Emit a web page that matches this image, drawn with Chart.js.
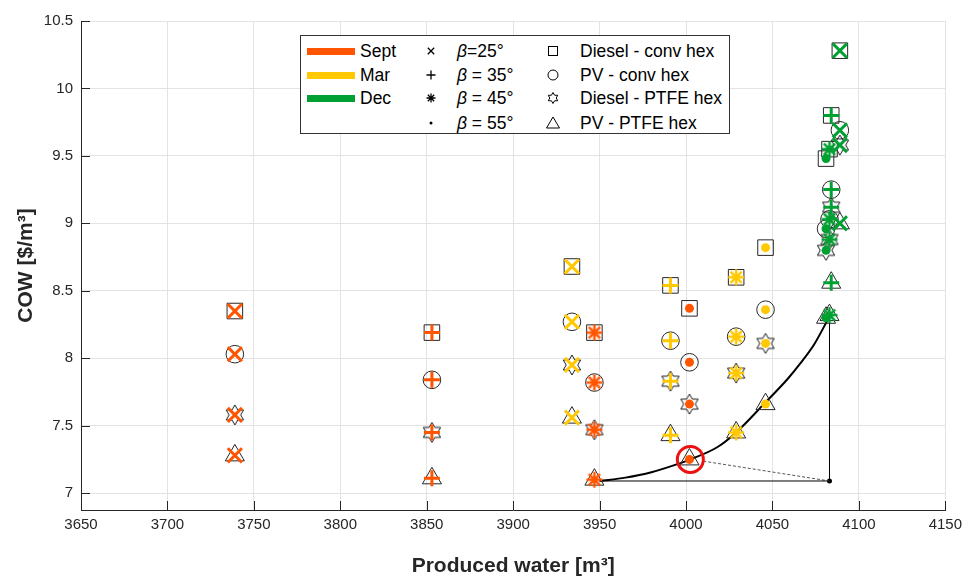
<!DOCTYPE html>
<html>
<head>
<meta charset="utf-8">
<title>COW vs produced water</title>
<script src="https://cdn.jsdelivr.net/npm/chart.js@4.4.0/dist/chart.umd.min.js"></script>
<style>
  body { margin: 0; background: #fff; }
  #wrap { position: relative; width: 968px; height: 579px; }
  #legend {
    position: absolute; left: 300px; top: 35px; width: 428px; height: 97px;
    border: 1px solid #333; background: #fff;
    font: 17.5px 'Liberation Sans', Arial, sans-serif; color: #000;
  }
  #legend .txt { position: absolute; white-space: nowrap; line-height: 20px; }
  #legend .bar { position: absolute; width: 48px; height: 7px; }
  #legend canvas { position: absolute; }
</style>
</head>
<body>
<div id="wrap">
  <canvas id="chartCanvas" width="968" height="579"></canvas>
  <div id="legend"></div>
</div>
<script>
// ---- data ----
const months = ['Sept', 'Mar', 'Dec'];
const betas = [25, 35, 45, 55];
const systems = ['Diesel - conv hex', 'PV - conv hex', 'Diesel - PTFE hex', 'PV - PTFE hex'];

// produced water [m3] for beta = 25, 35, 45, 55
const waterSept = [3739, 3853, 3947, 4002];
const waterMar = [3934, 3991, 4029, 4046];
const waterDec = [4089, 4084, 4083, 4081];

// COW [$/m3], one row per beta, columns follow `systems`
const cowSept = [
  [8.35, 8.03, 7.58, 7.28],
  [8.19, 7.84, 7.45, 7.11],
  [8.19, 7.82, 7.47, 7.10],
  [8.37, 7.97, 7.66, 7.25]
];
const cowMar = [
  [8.68, 8.27, 7.95, 7.56],
  [8.54, 8.13, 7.83, 7.43],
  [8.60, 8.16, 7.89, 7.45],
  [8.82, 8.36, 8.11, 7.66]
];
const cowDec = [
  [10.28, 9.69, 9.58, 9.00],
  [9.80, 9.25, 9.12, 8.56],
  [9.55, 9.03, 8.88, 8.32],
  [9.48, 8.96, 8.80, 8.30]
];

// trade-off curve and the helper lines around it
const frontWater = [3950, 3965, 3980, 3995, 4002.5, 4018, 4029, 4045, 4059, 4066, 4074, 4083];
const frontCow = [7.09, 7.115, 7.155, 7.215, 7.25, 7.34, 7.45, 7.66, 7.85, 7.96, 8.10, 8.31];
const cornerWater = 4083;
const cornerCow = 7.09;
const chosenWater = 4002.5;
const chosenCow = 7.25;
const dashStartWater = 4010;
const dashStartCow = 7.237;

const xTicks = [3650, 3700, 3750, 3800, 3850, 3900, 3950, 4000, 4050, 4100, 4150];
const yTicks = [7, 7.5, 8, 8.5, 9, 9.5, 10, 10.5];

// ---- styles ----
const monthColors = ['#ff5500', '#ffc800', '#00a032'];
const ink = '#262626';
const FONT = "'Liberation Sans', Arial, sans-serif";

// marker drawing helpers (also used for the legend)
function makeCanvas(size, draw) {
  const c = document.createElement('canvas');
  c.width = size;
  c.height = size;
  const g = c.getContext('2d');
  g.translate(size / 2, size / 2);
  draw(g);
  return c;
}

function drawHexagram(g, R, color, lw) {
  const r = R / Math.sqrt(3);
  g.beginPath();
  for (let k = 0; k < 12; k++) {
    const a = -Math.PI / 2 + k * Math.PI / 6;
    const rr = k % 2 ? r : R;
    const px = Math.cos(a) * rr, py = Math.sin(a) * rr;
    if (k === 0) g.moveTo(px, py); else g.lineTo(px, py);
  }
  g.closePath();
  g.strokeStyle = color;
  g.lineWidth = lw;
  g.stroke();
}

function drawAsterisk(g, R, color, lw) {
  g.beginPath();
  for (let k = 0; k < 4; k++) {
    const a = k * Math.PI / 4;
    g.moveTo(-Math.cos(a) * R, -Math.sin(a) * R);
    g.lineTo(Math.cos(a) * R, Math.sin(a) * R);
  }
  g.strokeStyle = color;
  g.lineWidth = lw;
  g.stroke();
}

function drawCross(g, R, color, lw, rotated) {
  g.save();
  if (rotated) g.rotate(Math.PI / 4);
  g.beginPath();
  g.moveTo(-R, 0); g.lineTo(R, 0);
  g.moveTo(0, -R); g.lineTo(0, R);
  g.strokeStyle = color;
  g.lineWidth = lw;
  g.stroke();
  g.restore();
}

const hexagramStyle = makeCanvas(24, g => drawHexagram(g, 10, '#1a1a1a', 1));

function asteriskStyle(color) {
  return makeCanvas(22, g => drawAsterisk(g, 8, color, 2.5));
}

// ---- datasets ----
const waterByMonth = [waterSept, waterMar, waterDec];
const cowByMonth = [cowSept, cowMar, cowDec];

const shapeStyles = [
  { pointStyle: 'rect', radius: 11 },
  { pointStyle: 'circle', radius: 8.8 },
  { pointStyle: hexagramStyle, radius: 10 },
  { pointStyle: 'triangle', radius: 11 }
];

const datasets = [];

// thin black outlines: one dataset per system
systems.forEach((sys, s) => {
  const pts = [];
  months.forEach((m, mi) => {
    betas.forEach((b, bi) => {
      pts.push({ x: waterByMonth[mi][bi], y: cowByMonth[mi][bi][s] });
    });
  });
  datasets.push({
    label: sys,
    data: pts,
    pointStyle: shapeStyles[s].pointStyle,
    pointRadius: shapeStyles[s].radius,
    borderColor: ink,
    backgroundColor: 'rgba(0,0,0,0)',
    pointBorderWidth: 1,
    order: 2
  });
});

// coloured beta markers: one dataset per month and beta
months.forEach((m, mi) => {
  const color = monthColors[mi];
  const betaStyles = [
    { pointStyle: 'crossRot', radius: 10, border: 3, fill: 'rgba(0,0,0,0)' },
    { pointStyle: 'cross', radius: 8, border: 3, fill: 'rgba(0,0,0,0)' },
    { pointStyle: asteriskStyle(color), radius: 8, border: 0, fill: 'rgba(0,0,0,0)' },
    { pointStyle: 'circle', radius: 4.5, border: 0, fill: color }
  ];
  betas.forEach((b, bi) => {
    const st = betaStyles[bi];
    datasets.push({
      label: m + ' ' + b,
      data: systems.map((sys, s) => ({ x: waterByMonth[mi][bi], y: cowByMonth[mi][bi][s] })),
      pointStyle: st.pointStyle,
      pointRadius: st.radius,
      pointBorderWidth: st.border,
      borderColor: color,
      backgroundColor: st.fill,
      order: 1
    });
  });
});

// curve + construction lines
const lineBase = { showLine: true, pointRadius: 0, borderColor: '#000', order: 3 };
datasets.push(Object.assign({}, lineBase, {
  label: 'front',
  data: frontWater.map((w, i) => ({ x: w, y: frontCow[i] })),
  borderWidth: 2,
  cubicInterpolationMode: 'monotone'
}));
datasets.push(Object.assign({}, lineBase, {
  label: 'horizontal',
  data: [{ x: frontWater[0], y: cornerCow }, { x: cornerWater, y: cornerCow }],
  borderWidth: 1
}));
datasets.push(Object.assign({}, lineBase, {
  label: 'vertical',
  data: [{ x: cornerWater, y: cornerCow }, { x: cornerWater, y: frontCow[frontCow.length - 1] }],
  borderWidth: 1
}));
datasets.push(Object.assign({}, lineBase, {
  label: 'dashed',
  data: [{ x: dashStartWater, y: dashStartCow }, { x: cornerWater, y: cornerCow }],
  borderWidth: 1,
  borderColor: '#555',
  borderDash: [3, 2]
}));
datasets.push({
  label: 'corner',
  data: [{ x: cornerWater, y: cornerCow }],
  pointStyle: 'circle',
  pointRadius: 2.5,
  pointBorderWidth: 0,
  backgroundColor: '#000',
  order: 3
});
datasets.push({
  label: 'chosen',
  data: [{ x: chosenWater, y: chosenCow }],
  pointStyle: 'circle',
  pointRadius: 13,
  pointBorderWidth: 3,
  borderColor: '#ee1111',
  backgroundColor: 'rgba(0,0,0,0)',
  order: 0
});

// ticks pointing into the plot, like the original axes
const innerTicks = {
  id: 'innerTicks',
  beforeDatasetsDraw(chart) {
    const { ctx, chartArea: a, scales: { x, y } } = chart;
    ctx.save();
    ctx.strokeStyle = ink;
    ctx.lineWidth = 1;
    ctx.beginPath();
    xTicks.forEach(v => {
      const px = Math.round(x.getPixelForValue(v)) + 0.5;
      ctx.moveTo(px, a.bottom);
      ctx.lineTo(px, a.bottom - 9);
    });
    yTicks.forEach(v => {
      const py = Math.round(y.getPixelForValue(v)) + 0.5;
      ctx.moveTo(a.left, py);
      ctx.lineTo(a.left + 9, py);
    });
    ctx.stroke();
    ctx.restore();
  }
};

Chart.defaults.font.family = FONT;

const ctx = document.getElementById('chartCanvas').getContext('2d');
window.myChart = new Chart(ctx, {
  type: 'scatter',
  data: { datasets: datasets },
  options: {
    responsive: false,
    animation: false,
    events: [],
    layout: { padding: { top: 21, right: 20, left: 0, bottom: 0 } },
    plugins: { legend: { display: false }, tooltip: { enabled: false } },
    scales: {
      x: {
        type: 'linear',
        min: 3650,
        max: 4150,
        afterBuildTicks: s => { s.ticks = xTicks.map(v => ({ value: v })); },
        afterFit: s => { s.height = 69; },
        grid: { color: '#e3e3e3', drawTicks: false },
        border: { color: ink },
        ticks: { color: ink, font: { size: 15 }, padding: 6, maxRotation: 0, autoSkip: false, callback: v => String(v) },
        title: {
          display: true,
          text: 'Produced water [m³]',
          color: ink,
          font: { size: 21, weight: 'bold' },
          padding: { top: 0, bottom: 0 }
        }
      },
      y: {
        type: 'linear',
        min: 6.875,
        max: 10.5,
        afterBuildTicks: s => { s.ticks = yTicks.map(v => ({ value: v })); },
        afterFit: s => { s.width = 81; },
        grid: { color: '#e3e3e3', drawTicks: false },
        border: { color: ink },
        ticks: { color: ink, font: { size: 15 }, padding: 8, autoSkip: false, callback: v => String(v) },
        title: {
          display: true,
          text: 'COW [$/m³]',
          color: ink,
          font: { size: 21, weight: 'bold' },
          padding: { top: 14, bottom: 0 }
        }
      }
    }
  },
  plugins: [innerTicks]
});

// ---- legend (three columns: month colour, beta marker, system shape) ----
function buildLegend() {
  const box = document.getElementById('legend');
  const rows = [15, 39, 62, 87];

  function addText(html, left, cy) {
    const d = document.createElement('div');
    d.className = 'txt';
    d.innerHTML = html;
    d.style.left = left + 'px';
    d.style.top = (cy - 10) + 'px';
    box.appendChild(d);
  }
  function addMarker(draw, cx, cy) {
    const c = makeCanvas(16, draw);
    c.style.left = (cx - 8) + 'px';
    c.style.top = (cy - 8) + 'px';
    box.appendChild(c);
  }

  months.forEach((m, i) => {
    const bar = document.createElement('div');
    bar.className = 'bar';
    bar.style.left = '6px';
    bar.style.top = (rows[i] - 3) + 'px';
    bar.style.background = monthColors[i];
    box.appendChild(bar);
    addText(m, 59, rows[i]);
  });

  const betaMarks = [
    g => drawCross(g, 4.5, '#000', 1.3, true),
    g => drawCross(g, 4.5, '#000', 1.3, false),
    g => drawAsterisk(g, 4.5, '#000', 1.3),
    g => { g.beginPath(); g.arc(0, 0, 1.5, 0, Math.PI * 2); g.fillStyle = '#000'; g.fill(); }
  ];
  betas.forEach((b, i) => {
    addMarker(betaMarks[i], 130, rows[i]);
    addText('<i>β</i>' + (i === 0 ? '=' : ' = ') + b + '°', 156, rows[i]);
  });

  const shapeMarks = [
    g => { g.strokeStyle = '#000'; g.lineWidth = 1; g.strokeRect(-4.5, -4.5, 9, 9); },
    g => { g.beginPath(); g.arc(0, 0, 5, 0, Math.PI * 2); g.strokeStyle = '#000'; g.lineWidth = 1; g.stroke(); },
    g => drawHexagram(g, 5.5, '#000', 1),
    g => { g.beginPath(); g.moveTo(0, -6); g.lineTo(6.5, 5); g.lineTo(-6.5, 5); g.closePath(); g.strokeStyle = '#000'; g.lineWidth = 1; g.stroke(); }
  ];
  systems.forEach((s, i) => {
    addMarker(shapeMarks[i], 252, rows[i]);
    addText(s, 279, rows[i]);
  });
}

buildLegend();
</script>
</body>
</html>
